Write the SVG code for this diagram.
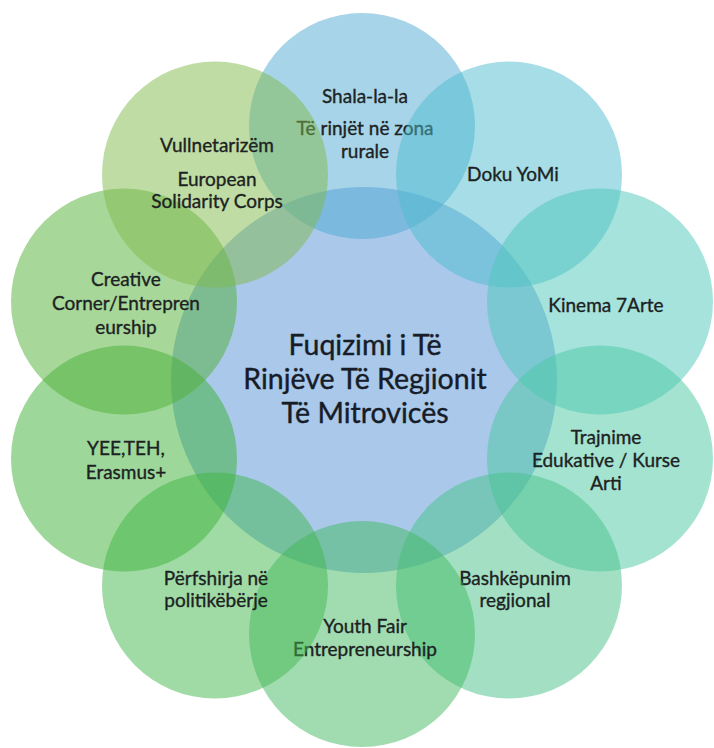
<svg xmlns="http://www.w3.org/2000/svg" width="714" height="748" viewBox="0 0 714 748">
<style>
.c{fill-opacity:0.5;stroke:none}
.t{font-family:Lato,"Open Sans","Liberation Sans",sans-serif;font-size:19px;fill:#1c2222;stroke:#1c2222;stroke-width:0.35px;text-anchor:middle}
.m{font-family:Lato,"Open Sans","Liberation Sans",sans-serif;font-size:28.5px;fill:#161c28;stroke:#161c28;stroke-width:0.4px;text-anchor:middle}
</style>
<rect width="714" height="748" fill="#ffffff"/>
<g id="center">
<circle cx="364" cy="380" r="193" fill="#a9c8ea"/>
</g>
<g id="connectors"></g>
<g id="n-shala">
<circle class="c" cx="362" cy="126" r="113" fill="#4fa9d1"/>
<text class="t" x="365" y="103">Shala-la-la</text>
<text class="t" x="365" y="135">Të rinjët në zona</text>
<text class="t" x="365" y="158">rurale</text>
</g>
<g id="n-doku">
<circle class="c" cx="509" cy="174.5" r="113" fill="#4dbbcd"/>
<text class="t" x="513" y="181">Doku YoMi</text>
</g>
<g id="n-kinema">
<circle class="c" cx="600" cy="301.5" r="113" fill="#4dc7b9"/>
<text class="t" x="606" y="312">Kinema 7Arte</text>
</g>
<g id="n-trajnime">
<circle class="c" cx="600" cy="458.5" r="113" fill="#49c7a1"/>
<text class="t" x="606" y="444">Trajnime</text>
<text class="t" x="606" y="467">Edukative / Kurse</text>
<text class="t" x="606" y="490">Arti</text>
</g>
<g id="n-bashkepunim">
<circle class="c" cx="509" cy="585.5" r="113" fill="#47c187"/>
<text class="t" x="515" y="585">Bashkëpunim</text>
<text class="t" x="515" y="607">regjional</text>
</g>
<g id="n-youthfair">
<circle class="c" cx="362" cy="634" r="113" fill="#41b961"/>
<text class="t" x="365" y="633">Youth Fair</text>
<text class="t" x="365" y="656">Entrepreneurship</text>
</g>
<g id="n-perfshirja">
<circle class="c" cx="215" cy="585.5" r="113" fill="#41b74d"/>
<text class="t" x="216" y="585">Përfshirja në</text>
<text class="t" x="216" y="607">politikëbërje</text>
</g>
<g id="n-yee">
<circle class="c" cx="124" cy="458.5" r="113" fill="#3bb135"/>
<text class="t" x="126" y="455">YEE,TEH,</text>
<text class="t" x="126" y="479">Erasmus+</text>
</g>
<g id="n-creative">
<circle class="c" cx="124" cy="301.5" r="113" fill="#51af35"/>
<text class="t" x="126" y="286">Creative</text>
<text class="t" x="126" y="310">Corner/Entrepren</text>
<text class="t" x="126" y="334">eurship</text>
</g>
<g id="n-vullnetarizem">
<circle class="c" cx="215" cy="174.5" r="113" fill="#7fb94b"/>
<text class="t" x="217" y="152">Vullnetarizëm</text>
<text class="t" x="217" y="186">European</text>
<text class="t" x="217" y="208">Solidarity Corps</text>
</g>
<g id="center-label">
<text class="m" x="365" y="355">Fuqizimi i Të</text>
<text class="m" x="365" y="389">Rinjëve Të Regjionit</text>
<text class="m" x="365" y="423">Të Mitrovicës</text>
</g>
</svg>
